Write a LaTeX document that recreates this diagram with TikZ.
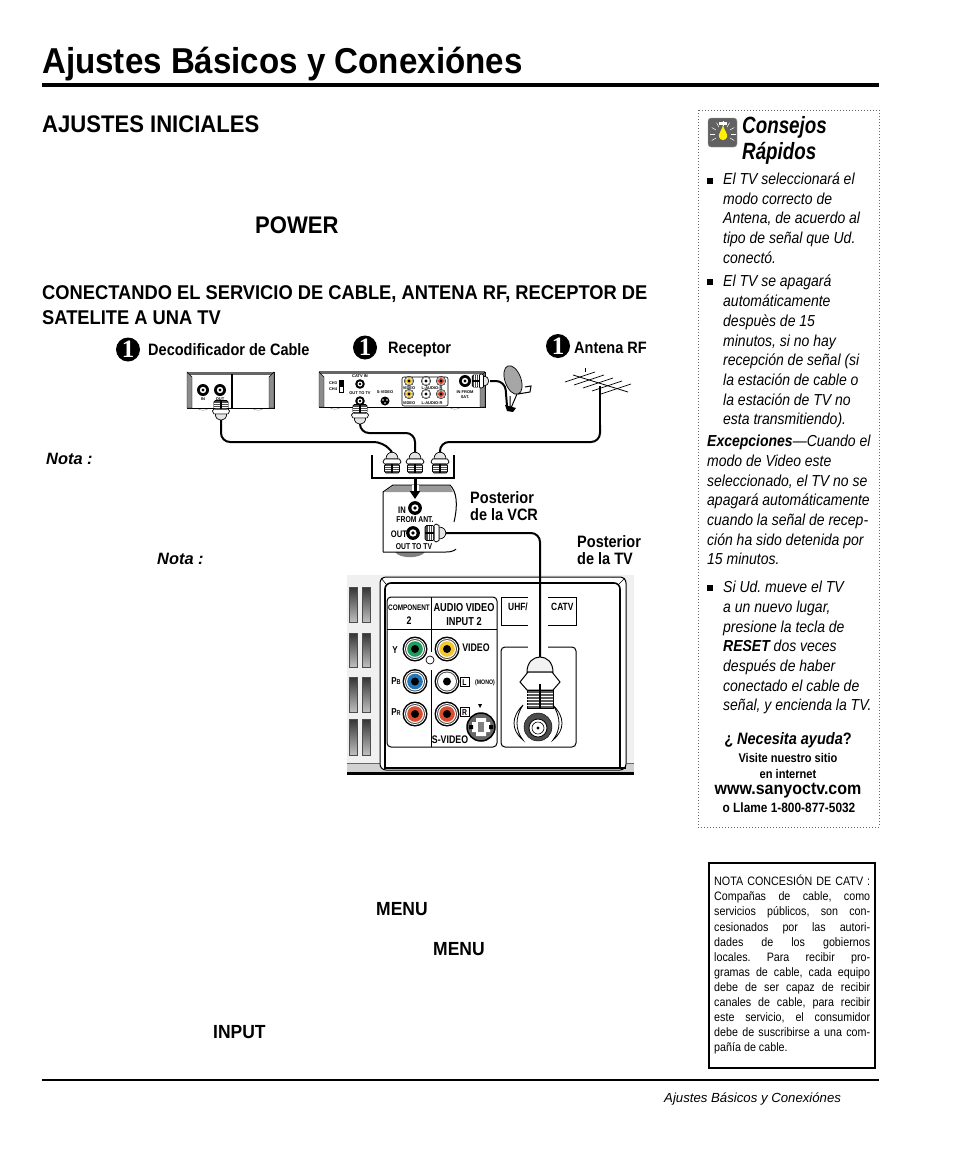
\documentclass[tikz,border=0pt]{standalone}
\usepackage{fontspec}
\setmainfont{Liberation Sans}
\newfontfamily\cond[FakeStretch=0.8]{Liberation Sans}
\newfontfamily\capf[FakeStretch=0.88]{Liberation Sans}
\newfontfamily\headf[FakeStretch=0.92]{Liberation Sans}
\newfontfamily\numf{Liberation Serif}
\usepackage{tikz}
\usetikzlibrary{arrows.meta,calc,shapes.geometric}
\definecolor{jackgreen}{HTML}{1E9E5A}
\definecolor{jackblue}{HTML}{2277BB}
\definecolor{jackred}{HTML}{DD4B2E}
\definecolor{jackyellow}{HTML}{F5C92E}
\newcommand{\jl}[1]{\hbox to 156pt{#1}}
\newcommand{\fsz}[2]{\fontsize{#1}{#2}\selectfont}
\frenchspacing
\tikzset{
lbl/.style={anchor=base west,inner sep=0pt},
mid/.style={anchor=base,inner sep=0pt},
head/.style={lbl,font=\headf\bfseries\fsz{#1}{#1}},
side/.style={anchor=north west,inner sep=0pt,align=left,font=\capf\itshape\fsz{15.9}{19.7}},
caplbl/.style={lbl,align=left,font=\capf\bfseries\fsz{16.5}{17}},
tinylbl/.style={mid,font=\bfseries\fsz{4}{4}},
smalllbl/.style={mid,font=\cond\bfseries\fsz{#1}{#1}},
numdot/.style={circle,fill=black,text=white,inner sep=0pt,minimum size=24pt,font=\numf\bfseries\fsz{25}{25}},
bullet/.style={fill=black,inner sep=0pt,minimum size=6pt},
coax/.style={line width=2pt,rounded corners=9pt},
boxface/.style={draw=black,line width=1pt,fill=white},
rca/.pic={\fill[black] (0,0) circle (12.5);\fill[white] (0,0) circle (11);\fill[black!70] (0,0) circle (10);\fill[white] (0,0) circle (9);\fill[#1] (0,0) circle (7.8);\fill[black] (0,0) circle (4);},
stud/.pic={\fill[black] (0,0) circle (6);\fill[white] (0,0) circle (3.2);\fill[black] (0,0) circle (1.6);},
fplug/.pic={
\filldraw[fill=black!10,line width=.7pt] (-6,-3) .. controls (-6,-12) and (6,-12) .. (6,-3) -- cycle;
\filldraw[fill=white,line width=.7pt] (-7.5,-3) -- (7.5,-3) -- (9,0) -- (7.5,2) -- (-7.5,2) -- (-9,0) -- cycle;
\filldraw[fill=black!70,line width=.7pt,rounded corners=1.5pt] (-7.5,2) rectangle (7.5,11);
\foreach \t in {4,6,8} {\draw[white,line width=.5pt] (-7,\t) -- (7,\t);}
\draw[line width=2pt] (0,2) -- (0,11);
},
}
\begin{document}
\begin{tikzpicture}[x=1pt,y=-1pt]
\useasboundingbox (0,0) rectangle (954,1159);
\node[head=36] (title) at (42,73) {Ajustes Básicos y Conexiónes};
\coordinate (ruleL) at (42,85);
\coordinate (ruleR) at (879,85);
\draw[line width=4pt] (ruleL) -- (ruleR);
\node[head=24] (inicial) at (42,132) {AJUSTES INICIALES};
\node[head=24] (power) at (255,233) {POWER};
\node[head=19.9] (conecta) at (42,299) {CONECTANDO EL SERVICIO DE CABLE, ANTENA RF, RECEPTOR DE};
\node[head=19.9] (satelite) at (42,324) {SATELITE A UNA TV};
\node[lbl,font=\bfseries\itshape\fsz{16.4}{16}] (nota1) at (46,464) {Nota :};
\node[lbl,font=\bfseries\itshape\fsz{16.4}{16}] (nota2) at (157,564) {Nota :};
\node[head=19] (menu1) at (376,915) {MENU};
\node[head=19] (menu2) at (433,955) {MENU};
\node[head=19] (input) at (213,1038) {INPUT};

\node[numdot] (one1) at (128,349.5) {1};
\node[numdot] (one2) at (365,347.5) {1};
\node[numdot] (one3) at (558,346) {1};
\node[caplbl] (capdec) at (148,355) {Decodificador de Cable};
\node[caplbl] (caprec) at (388,353) {Receptor};
\node[caplbl] (capant) at (574,353) {Antena RF};

\foreach \x in {203,258} {\draw[black!50] (\x-6,408) .. controls (\x-3,411) and (\x+3,411) .. (\x+6,408);}
\filldraw[boxface] (187,372) rectangle (274,408);
\fill[black!60] (187,372) rectangle (274,375);
\filldraw[fill=black!45,draw=black] (187,372) -- (192,377) -- (192,408) -- (187,408) -- cycle;
\filldraw[fill=black!45,draw=black] (274,372) -- (269,377) -- (269,408) -- (274,408) -- cycle;
\draw[line width=1.6pt] (232,374) -- (232,408);
\pic at (203,390) {stud};
\pic at (220,390) {stud};
\node[tinylbl] (decin) at (203,400) {IN};
\node[tinylbl] (decout) at (220,400) {OUT};
\coordinate (plugdec) at (221,411);
\coordinate (topdec) at (221,419);

\foreach \x in {335,455} {\draw[black!50] (\x-6,407) .. controls (\x-3,410) and (\x+3,410) .. (\x+6,407);}
\filldraw[boxface] (319,372) rectangle (485,407);
\fill[black!60] (319,371) rectangle (485,374);
\filldraw[fill=black!45,draw=black] (319,372) -- (324,377) -- (324,407) -- (319,407) -- cycle;
\filldraw[fill=black!45,draw=black] (485,372) -- (480,377) -- (480,407) -- (485,407) -- cycle;
\filldraw[fill=black] (339,380) rectangle (343,386);
\draw[fill=white,line width=.7pt] (339,386) rectangle (343,392);
\node[tinylbl] (ch3) at (333,384) {CH3};
\node[tinylbl] (ch4) at (333,390) {CH4};
\node[tinylbl] (catv) at (360,377) {CATV IN};
\pic[scale=.8] at (360,384) {stud};
\node[tinylbl] (outtv) at (360,394.5) {OUT TO TV};
\pic[scale=.8] at (360,401) {stud};
\node[tinylbl] (svid) at (385,393) {S-VIDEO};
\fill[black] (385,401) circle (4.5);
\fill[white] (383,400) circle (.8) (387,400) circle (.8) (385,403) circle (.8);
\draw[line width=.6pt,rounded corners=2pt] (402,377) rectangle (448,406);
\foreach \y/\t in {381/388.5,394/403} {
\pic[scale=.4] at (409,\y) {rca=jackyellow};
\pic[scale=.4] at (426,\y) {rca=white};
\pic[scale=.4] at (441,\y) {rca=jackred};
\node[tinylbl] at (409,\t+1) {VIDEO};
\node[tinylbl] at (432,\t+1) {L-AUDIO-R};
}
\pic at (465,381) {stud};
\node[tinylbl] (insat) at (465,393) {IN FROM};
\node[tinylbl] (sat) at (465,398) {SAT.};
\coordinate (plugsat) at (481,381);
\coordinate (topsat) at (490,381);
\coordinate (dishfoot) at (507,406);
\coordinate (plugrec) at (360,415);
\coordinate (toprec) at (360,423);

\filldraw[fill=black!35,draw=black,line width=.7pt,rotate around={20:(513,380)}] (513,380) ellipse (8 and 15);
\draw[line width=1pt] (510,396) -- (510,408) (517,394) -- (511,408);
\draw[line width=1pt] (518,394) -- (530,392) -- (531,386) -- (525,387);
\fill[black] (505,405) -- (516,408) -- (513,412) -- (507,411) -- cycle;

\coordinate (mast) at (600,386);
\coordinate (mastfoot) at (600,425);
\draw[line width=.8pt] (573,375) -- (628,392);
\foreach \x/\y in {580/377,589/380,598/383,607/386,616/389} {\draw[line width=.7pt] (\x-15,\y+5) -- (\x+15,\y-5);}
\draw[line width=.8pt] (585,368) -- (585,372);

\draw[line width=1.6pt] (372,455) -- (372,478) -- (454,478) -- (454,455);
\coordinate (plugL) at (392,462);
\coordinate (plugM) at (415,462);
\coordinate (plugR) at (440,462);
\coordinate (topL) at (392,452);
\coordinate (topM) at (415,452);
\coordinate (topR) at (440,452);

\draw[coax] (topdec) -- (221,442) -- (383,442) -- (topL);
\draw[coax] (toprec) -- (360,433) -- (415,433) -- (topM);
\draw[coax] (topR) -- (440,442) -- (600,442) -- (mastfoot);
\draw[line width=2pt] (mastfoot) -- (mast);
\draw[coax] (topsat) -- (505,381) -- (dishfoot);

\pic[scale=.95,rotate=180] at (plugdec) {fplug};
\pic[scale=.95,rotate=180] at (plugrec) {fplug};
\pic at (plugL) {fplug};
\pic at (plugM) {fplug};
\pic at (plugR) {fplug};
\pic[scale=.8,rotate=-90] at (plugsat) {fplug};

\fill[black!50] (395,552) .. controls (400,559) and (420,559) .. (425,552) -- cycle;
\filldraw[boxface] (383,552) -- (383,492) -- (393,485) -- (450,485) .. controls (457,492) and (458,505) .. (454,522);
\draw[line width=1pt] (383,552) -- (446,552) .. controls (454,552) and (456,549) .. (456,549);
\fill[black!40] (384,492) -- (393,486) -- (450,486) -- (453,492) -- cycle;
\draw[line width=7pt,white] (415,485) -- (415,495);
\coordinate (traybot) at (415,478);
\coordinate (vcrin) at (415,499);
\draw[line width=3pt,-{Triangle[width=10pt,length=8pt]}] (traybot) -- (vcrin);
\pic[scale=1.15] at (415,508) {stud};
\pic[scale=1.15] at (413,533) {stud};
\node[smalllbl=9.5] (vin) at (402,513) {IN};
\node[smalllbl=8.5] (vfrom) at (415,522) {FROM ANT.};
\node[smalllbl=9.5] (vout) at (399,537) {OUT};
\node[smalllbl=8.5] (vouttv) at (414,549) {OUT TO TV};
\coordinate (plugvcr) at (436,533);
\coordinate (topvcr) at (446,533);
\pic[rotate=-90] at (plugvcr) {fplug};

\node[caplbl] (posvcr) at (470,503) {Posterior};
\node[caplbl] (posvcr2) at (470,520) {de la VCR};
\node[caplbl] (postv) at (577,547) {Posterior};
\node[caplbl] (postv2) at (577,564) {de la TV};

\fill[black!6] (347,575) rectangle (634,772);
\fill[black!18] (347,763) rectangle (634,772);
\fill[black] (347,772) rectangle (634,775);
\draw[black!60] (347,763) -- (380,763);
\draw[black!60] (627,763) -- (634,763);
\filldraw[fill=white,draw=black,line width=1pt,rounded corners=6pt] (380,577) rectangle (626,770);
\draw[line width=1.6pt,rounded corners=6pt] (385,768) -- (385,583) -- (620,583) -- (620,768);
\draw[line width=2pt] (384,768) -- (626,768);
\draw[line width=.6pt] (381,578) -- (386,584) (625,578) -- (619,584);
\foreach \x in {349,362} {
\foreach \y/\h in {587/35,633/34,677/35,719/36} {
\shade[top color=black!80,bottom color=black!25,draw=black!70] (\x,\y) rectangle ++(8,\h);
}}
\draw[line width=1pt,rounded corners=4pt] (387,597) rectangle (497,747);
\draw[line width=1pt] (387,629) -- (497,629);
\draw[line width=1pt] (431,597) -- (431,652) (431,670) -- (431,747);
\node[mid,font=\cond\bfseries\fsz{8}{8}] (comp) at (409,610) {COMPONENT};
\node[smalllbl=11] (comp2) at (409,624) {2};
\node[smalllbl=11.5] (av) at (464,611) {AUDIO VIDEO};
\node[smalllbl=11.5] (in2) at (464,625) {INPUT 2};
\pic at (415,649) {rca=jackgreen};
\pic at (415,681.5) {rca=jackblue};
\pic at (415,714) {rca=jackred};
\pic at (447,649) {rca=jackyellow};
\pic at (447,681.5) {rca=white};
\pic at (447,714) {rca=jackred};
\draw[fill=white,line width=.7pt] (430,660) circle (4);
\node[smalllbl=10] (ly) at (395,653) {Y};
\node[smalllbl=10] (lpb) at (396,684) {P\fsz{7}{7}B};
\node[smalllbl=10] (lpr) at (396,715) {P\fsz{7}{7}R};
\node[smalllbl=11] (lvid) at (476,651) {VIDEO};
\draw[line width=.8pt] (460,677) rectangle (469,686);
\node[smalllbl=8.5] (ll) at (464.5,685) {L};
\node[smalllbl=6.5] (lmono) at (485,684) {(MONO)};
\draw[line width=.8pt] (460,707) rectangle (469,716);
\node[smalllbl=8.5] (lr) at (464.5,715) {R};
\fill[black] (478,704) -- (482,704) -- (480,708) -- cycle;
\filldraw[fill=black!60,draw=black,line width=1.5pt] (481,727) circle (14);
\fill[white] (476,718) rectangle (486,736) (472,722) rectangle (490,732);
\fill[black!50] (478,722) rectangle (484,732);
\fill[black] (469,725) rectangle (473,729) (489,725) rectangle (493,729);
\node[smalllbl=11] (lsv) at (450,743) {S-VIDEO};
\draw[line width=1pt] (501,597) rectangle (576,625);
\node[lbl,font=\cond\bfseries\fsz{10.5}{10.5}] (uhf) at (508,610) {UHF/};
\node[lbl,font=\cond\bfseries\fsz{10.5}{10.5}] (catvl) at (551,610) {CATV};
\draw[line width=1pt,rounded corners=4pt] (501,647) rectangle (576,747);
\fill[white] (528,595) rectangle (548,650);
\coordinate (plugtv) at (540,680);
\coordinate (toptv) at (540,660);
\draw[coax] (topvcr) -- (540,533) -- (toptv);
\begin{scope}[shift={(plugtv)}]
\filldraw[fill=black!5,line width=1pt] (-13,-8) .. controls (-13,-28) and (13,-28) .. (13,-8) -- cycle;
\filldraw[fill=white,line width=1pt] (-12,-8) -- (12,-8) -- (20,2) -- (13,10) -- (-13,10) -- (-20,2) -- cycle;
\filldraw[fill=black!65,line width=.7pt] (-13,10) rectangle (13,28);
\foreach \t in {13,16,19,22,25} {\draw[white,line width=.5pt] (-13,\t) -- (13,\t);}
\draw[line width=2pt] (0,4) -- (0,28);
\end{scope}
\filldraw[fill=black!70,draw=black] (538,727) circle (14);
\draw[fill=white,line width=.8pt] (538,728) circle (9);
\draw[line width=.6pt] (538,728) circle (6);
\fill[black] (538,728) circle (1.6);
\filldraw[fill=white,line width=.8pt] (523,705) .. controls (511,717) and (511,730) .. (523,740) .. controls (515,730) and (515,717) .. (523,705);
\filldraw[fill=white,line width=.8pt] (553,705) .. controls (565,717) and (565,730) .. (553,740) .. controls (561,730) and (561,717) .. (553,705);

\draw[black!60,line width=1pt,dotted] (698,110) rectangle (879,827);
\filldraw[fill=black!62,draw=black!40,rounded corners=3pt] (708,118) rectangle (737,147);
\fill[white] (719,122) rectangle (727,125);
\fill[yellow] (723,125) .. controls (725,132) and (728,134) .. (727,137) .. controls (726,141) and (720,141) .. (719,137) .. controls (718,134) and (721,132) .. (723,125);
\foreach \a in {150,180,210,240,270,300,330,0,30} {\draw[white,line width=.5pt] (723,134) ++(\a:8) -- ++(\a:5);}
\node[anchor=base west,inner sep=0pt,font=\cond\bfseries\itshape\fsz{23.5}{24}] (consejos) at (742,133) {Consejos};
\node[anchor=base west,inner sep=0pt,font=\cond\bfseries\itshape\fsz{23.5}{24}] (rapidos) at (742,159) {Rápidos};
\node[bullet] (b1) at (710,181) {};
\node[side] (tip1) at (723,172.5) {El TV seleccionará el\\modo correcto de\\Antena, de acuerdo al\\tipo de señal que Ud.\\conectó.};
\node[bullet] (b2) at (710,282) {};
\node[side] (tip2) at (723,275) {El TV se apagará\\automáticamente\\despuès de 15\\minutos, si no hay\\recepción de señal (si\\la estación de cable o\\la estación de TV no\\esta transmitiendo).};
\node[side] (tip3) at (707,435) {\textbf{Excepciones}—Cuando el\\modo de Video este\\seleccionado, el TV no se\\apagará automáticamente\\cuando la señal de recep-\\ción ha sido detenida por\\15 minutos.};
\node[bullet] (b3) at (710,588) {};
\node[side] (tip4) at (723,581) {Si Ud. mueve el TV\\a un nuevo lugar,\\presione la tecla de\\\textbf{RESET} dos veces\\después de haber\\conectado el cable de\\señal, y encienda la TV.};
\node[mid,font=\capf\bfseries\fsz{16.5}{16}] (ayuda) at (788,744) {¿ \textit{Necesita ayuda}?};
\node[mid,font=\capf\bfseries\fsz{12.6}{12}] (visite) at (788,762) {Visite nuestro sitio};
\node[mid,font=\capf\bfseries\fsz{12.6}{12}] (internet) at (788,778) {en internet};
\node[mid,font=\headf\bfseries\fsz{17.4}{17}] (www) at (788,794) {www.sanyoctv.com};
\node[mid,font=\capf\bfseries\fsz{13.5}{13}] (llame) at (789,812) {o Llame 1-800-877-5032};

\draw[line width=2pt] (709,863) rectangle (875,1068);
\node[anchor=north west,inner sep=0pt,align=left,font=\capf\fsz{12.2}{15.1}] (catvnote) at (714,875) {\jl{NOTA CONCESIÓN DE CATV :}\\\jl{Compañas de cable, como}\\\jl{servicios públicos, son con-}\\\jl{cesionados por las autori-}\\\jl{dades de los gobiernos}\\\jl{locales. Para recibir pro-}\\\jl{gramas de cable, cada equipo}\\\jl{debe de ser capaz de recibir}\\\jl{canales de cable, para recibir}\\\jl{este servicio, el consumidor}\\\jl{debe de suscribirse a una com-}\\pañía de cable.};

\coordinate (footL) at (42,1080);
\coordinate (footR) at (879,1080);
\draw[line width=2pt] (footL) -- (footR);
\node[lbl,font=\itshape\fsz{13.2}{13.2}] (footer) at (664,1102) {Ajustes Básicos y Conexiónes};
\end{tikzpicture}
\end{document}
